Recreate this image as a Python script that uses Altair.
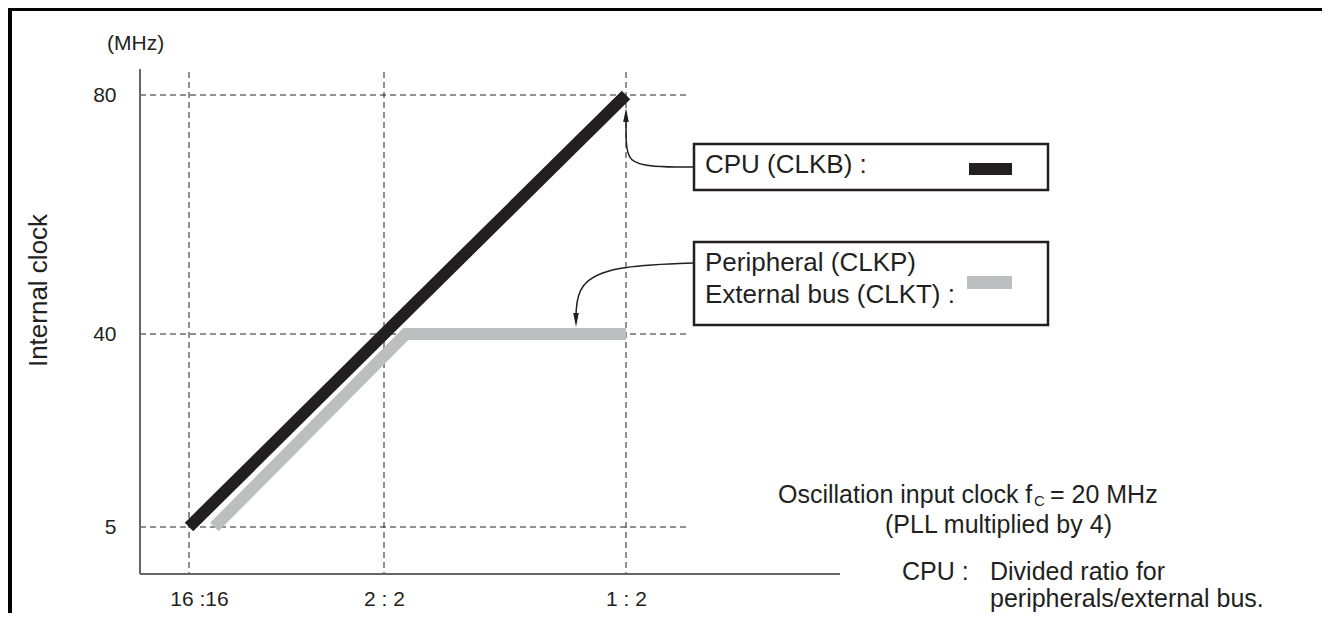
import altair as alt
import pandas as pd

# ---------------- data ----------------
ratio_pos = [0, 1, 2]                       # divider ratio steps
ratio_labels = ["16 :16", "2 : 2", "1 : 2"]  # x tick labels
y_ticks = [5, 40, 80]                        # MHz tick values

cpu_pos = [0, 1, 2]
cpu_mhz = [5, 40, 80]                        # CPU (CLKB)

periph_pos = [0.13, 1.09, 2.0]               # drawn slightly right of the CPU line
periph_mhz = [5, 40, 40]                     # Peripheral / External bus

# ---------------- layout (page pixels) ----------------
X0, Y0 = 140, 69          # plot origin on the page
W, H = 700, 505           # plot area
FONT = "Liberation Sans"
INK = "#231f20"
GREY = "#bcbec0"


def vx(px):
    return px - X0


def vy(py):
    return py - Y0


x_scale = alt.Scale(domain=[0, 1, 2], range=[vx(189), vx(384), vx(626)], nice=False, zero=False)
y_scale = alt.Scale(domain=[5, 40, 80], range=[vy(527), vy(334), vy(95)], nice=False, zero=False)

label_expr = "[" + ",".join("'" + s + "'" for s in ratio_labels) + "][datum.value]"

cpu_df = pd.DataFrame({"pos": cpu_pos, "mhz": cpu_mhz})
per_df = pd.DataFrame({"pos": periph_pos, "mhz": periph_mhz})
ygrid_df = pd.DataFrame({"mhz": y_ticks})
xgrid_df = pd.DataFrame({"pos": ratio_pos})

# axes (labels only) carried by invisible layers
axis_layer = alt.Chart(xgrid_df).mark_point(opacity=0).encode(
    x=alt.X("pos:Q", scale=x_scale,
            axis=alt.Axis(values=ratio_pos, labelExpr=label_expr, domain=False, ticks=False,
                          grid=False, labelFontSize=21, labelFont=FONT, labelColor=INK,
                          labelPadding=14, title=None, labelFlush=False,
                          labelOffset={"condition": {"test": "datum.value == 0", "value": 10},
                                       "value": 0})),
    y=alt.value(0),
)
yaxis_layer = alt.Chart(ygrid_df).mark_point(opacity=0).encode(
    y=alt.Y("mhz:Q", scale=y_scale,
            axis=alt.Axis(values=y_ticks, domain=False, ticks=False, grid=False,
                          labelFontSize=21, labelFont=FONT, labelColor=INK, labelPadding=24,
                          title="Internal clock", titleFont=FONT, titleFontSize=26,
                          titleFontWeight="normal", titleColor=INK, titleAngle=270,
                          titleAlign="center", titleBaseline="middle",
                          titleX=vx(38), titleY=vy(290), labelFlush=False)),
    x=alt.value(0),
)

# dashed grid
hgrid = alt.Chart(ygrid_df).mark_rule(color=INK, strokeWidth=1, strokeDash=[6, 4]).encode(
    y=alt.Y("mhz:Q", scale=y_scale), x=alt.value(0), x2=alt.value(vx(690)))
vgrid = alt.Chart(xgrid_df).mark_rule(color=INK, strokeWidth=1, strokeDash=[6, 4]).encode(
    x=alt.X("pos:Q", scale=x_scale), y=alt.value(vy(72)), y2=alt.value(H))

# axis lines
xline = alt.Chart(xgrid_df).mark_rule(color="#666666", strokeWidth=2).encode(
    x=alt.value(0), x2=alt.value(vx(840)), y=alt.value(H))
yline = alt.Chart(xgrid_df).mark_rule(color="#666666", strokeWidth=2).encode(
    x=alt.value(0), y=alt.value(0), y2=alt.value(H))

# series
per_line = alt.Chart(per_df).mark_line(color=GREY, strokeWidth=12, strokeCap="butt",
                                       strokeJoin="miter").encode(
    x=alt.X("pos:Q", scale=x_scale), y=alt.Y("mhz:Q", scale=y_scale), order="pos:Q")
cpu_line = alt.Chart(cpu_df).mark_line(color=INK, strokeWidth=12, strokeCap="butt",
                                       strokeJoin="miter").encode(
    x=alt.X("pos:Q", scale=x_scale), y=alt.Y("mhz:Q", scale=y_scale), order="pos:Q")

# legend boxes
boxes_df = pd.DataFrame({
    "x": [vx(694), vx(694)], "x2": [vx(1048), vx(1048)],
    "y": [vy(144), vy(242)], "y2": [vy(190), vy(325)],
})
boxes = alt.Chart(boxes_df).mark_rect(fill="white", stroke=INK, strokeWidth=2.5).encode(
    x=alt.X("x:Q", scale=None), x2="x2:Q", y=alt.Y("y:Q", scale=None), y2="y2:Q")

sw_df = pd.DataFrame({
    "x": [vx(969), vx(967)], "x2": [vx(1012), vx(1012)],
    "y": [vy(163), vy(276)], "y2": [vy(175), vy(289)],
    "c": [INK, GREY],
})
swatches = alt.Chart(sw_df).mark_rect().encode(
    x=alt.X("x:Q", scale=None), x2="x2:Q", y=alt.Y("y:Q", scale=None), y2="y2:Q",
    color=alt.Color("c:N", scale=None))

# annotation arrows
arr_df = pd.DataFrame({
    "id": [0] * 5 + [1] * 4,
    "k": list(range(5)) + list(range(4)),
    "x": [vx(693), vx(652), vx(628), vx(626), vx(626), vx(693), vx(612), vx(578), vx(576)],
    "y": [vy(167), vy(167), vy(162), vy(142), vy(121), vy(263), vy(266), vy(284), vy(314)],
})
arrows = alt.Chart(arr_df).mark_line(color=INK, strokeWidth=1.5, interpolate="basis").encode(
    x=alt.X("x:Q", scale=None), y=alt.Y("y:Q", scale=None), detail="id:N", order="k:Q")
head_df = pd.DataFrame({"x": [vx(626), vx(576)], "y": [vy(115), vy(320)],
                        "s": ["M0,-1L0.4,1L-0.4,1Z", "M0,1L0.4,-1L-0.4,-1Z"]})
heads = alt.Chart(head_df).mark_point(filled=True, color=INK, size=196, opacity=1).encode(
    x=alt.X("x:Q", scale=None), y=alt.Y("y:Q", scale=None),
    shape=alt.Shape("s:N", scale=None))

# texts
txt_df = pd.DataFrame({
    "t": ["(MHz)", "CPU (CLKB) :", "Peripheral (CLKP)", "External bus (CLKT) :",
          "Oscillation input clock f", "= 20 MHz", "(PLL multiplied by 4)",
          "CPU :", "Divided ratio for", "peripherals/external bus."],
    "x": [vx(107), vx(705), vx(705), vx(705), vx(778), vx(1050), vx(885),
          vx(902), vx(990), vx(990)],
    "y": [vy(44), vy(165), vy(263), vy(295), vy(495), vy(495), vy(525),
          vy(572), vy(572), vy(599)],
    "s": [21, 26, 26, 26, 25, 25, 25, 25, 25, 25],
})
texts = alt.Chart(txt_df).mark_text(align="left", baseline="middle", font=FONT, color=INK).encode(
    x=alt.X("x:Q", scale=None), y=alt.Y("y:Q", scale=None), text="t:N",
    size=alt.Size("s:Q", scale=None))
sub_df = pd.DataFrame({"t": ["C"], "x": [vx(1034)], "y": [vy(501)]})
subscript = alt.Chart(sub_df).mark_text(align="left", baseline="middle", font=FONT, color=INK,
                                        fontSize=15).encode(
    x=alt.X("x:Q", scale=None), y=alt.Y("y:Q", scale=None), text="t:N")

# page frame (top and left edges)
frame_top = alt.Chart(xgrid_df).mark_rule(color="black", strokeWidth=3).encode(
    x=alt.value(-X0 + 8), x2=alt.value(1330 - X0), y=alt.value(-Y0 + 9.5))
frame_left = alt.Chart(xgrid_df).mark_rule(color="black", strokeWidth=4).encode(
    x=alt.value(-X0 + 10), y=alt.value(-Y0 + 8), y2=alt.value(621 - Y0))

chart = alt.layer(
    axis_layer, yaxis_layer, hgrid, vgrid, xline, yline, per_line, cpu_line,
    arrows, heads, boxes, swatches, texts, subscript, frame_top, frame_left,
).properties(
    width=W, height=H,
    autosize=alt.AutoSizeParams(type="none"),
    padding={"left": X0 - 8, "top": Y0 - 8, "right": 1314 - (X0 - 8) - W, "bottom": 605 - (Y0 - 8) - H},
).configure(font=FONT).configure_view(stroke=None)

chart.save("out.html", embed_options={"renderer": "svg", "actions": False})
